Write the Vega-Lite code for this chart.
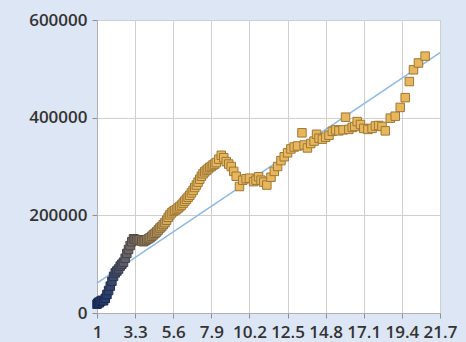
{
  "$schema": "https://vega.github.io/schema/vega-lite/v6.json",
  "width": 343,
  "height": 293,
  "autosize": {"type": "none"},
  "padding": {"left": 97, "top": 20, "right": 26, "bottom": 29},
  "background": "#dce6f4",
  "config": {
    "view": {"fill": "white", "stroke": "#c8c8c8"},
    "axis": {
      "labelFont": "Open Sans",
      "labelFontWeight": 600,
      "labelFontSize": 17,
      "labelColor": "#333333",
      "gridColor": "#cfcfcf",
      "domainColor": "#b0b0b0",
      "tickColor": "#909090",
      "tickSize": 5,
      "title": null
    }
  },
  "datasets": {
    "pts": [
      {"x":1.0,"y":18000},{"x":1.05,"y":20000},{"x":1.1,"y":22000},{"x":1.15,"y":21000},{"x":1.2,"y":24000},{"x":1.3,"y":26000},{"x":1.4,"y":25000},{"x":1.5,"y":30000},{"x":1.6,"y":38000},{"x":1.7,"y":46000},{"x":1.8,"y":55000},{"x":1.9,"y":65000},{"x":2.0,"y":75000},{"x":2.1,"y":82000},{"x":2.2,"y":86000},{"x":2.3,"y":90000},{"x":2.4,"y":96000},{"x":2.5,"y":100000},{"x":2.6,"y":104000},{"x":2.7,"y":112000},{"x":2.8,"y":122000},{"x":2.9,"y":130000},{"x":3.0,"y":138000},{"x":3.1,"y":146000},{"x":3.2,"y":152000},{"x":3.3,"y":151000},{"x":3.4,"y":150000},{"x":3.5,"y":149000},{"x":3.6,"y":150000},{"x":3.7,"y":147000},{"x":3.8,"y":146000},{"x":3.9,"y":148000},{"x":4.0,"y":150000},{"x":4.1,"y":152000},{"x":4.2,"y":154000},{"x":4.3,"y":157000},{"x":4.4,"y":160000},{"x":4.5,"y":163000},{"x":4.6,"y":166000},{"x":4.7,"y":170000},{"x":4.8,"y":174000},{"x":4.9,"y":177000},{"x":5.0,"y":181000},{"x":5.1,"y":185000},{"x":5.2,"y":190000},{"x":5.3,"y":196000},{"x":5.4,"y":201000},{"x":5.5,"y":205000},{"x":5.6,"y":208000},{"x":5.7,"y":210000},{"x":5.8,"y":212000},{"x":5.9,"y":215000},{"x":6.0,"y":218000},{"x":6.1,"y":221000},{"x":6.2,"y":225000},{"x":6.3,"y":229000},{"x":6.4,"y":233000},{"x":6.5,"y":237000},{"x":6.6,"y":241000},{"x":6.7,"y":246000},{"x":6.8,"y":251000},{"x":6.9,"y":257000},{"x":7.0,"y":262000},{"x":7.1,"y":268000},{"x":7.2,"y":274000},{"x":7.3,"y":280000},{"x":7.4,"y":285000},{"x":7.5,"y":289000},{"x":7.6,"y":292000},{"x":7.7,"y":295000},{"x":7.8,"y":298000},{"x":7.9,"y":300000},{"x":8.0,"y":303000},{"x":8.1,"y":305000},{"x":8.2,"y":308000},{"x":8.35,"y":315000},{"x":8.5,"y":323000},{"x":8.65,"y":318000},{"x":8.8,"y":310000},{"x":8.95,"y":305000},{"x":9.1,"y":300000},{"x":9.25,"y":290000},{"x":9.4,"y":280000},{"x":9.6,"y":259000},{"x":9.8,"y":272000},{"x":10.0,"y":275000},{"x":10.2,"y":276000},{"x":10.45,"y":269000},{"x":10.6,"y":272000},{"x":10.75,"y":279000},{"x":10.9,"y":272000},{"x":11.06,"y":268000},{"x":11.25,"y":262000},{"x":11.5,"y":278000},{"x":11.7,"y":290000},{"x":11.9,"y":300000},{"x":12.1,"y":312000},{"x":12.3,"y":320000},{"x":12.5,"y":328000},{"x":12.7,"y":336000},{"x":12.9,"y":340000},{"x":13.1,"y":342000},{"x":13.37,"y":369000},{"x":13.5,"y":344000},{"x":13.7,"y":338000},{"x":13.9,"y":347000},{"x":14.1,"y":352000},{"x":14.25,"y":366000},{"x":14.4,"y":358000},{"x":14.6,"y":356000},{"x":14.8,"y":360000},{"x":15.0,"y":364000},{"x":15.2,"y":372000},{"x":15.4,"y":375000},{"x":15.6,"y":373000},{"x":15.85,"y":375000},{"x":16.0,"y":401000},{"x":16.2,"y":376000},{"x":16.4,"y":380000},{"x":16.55,"y":382000},{"x":16.7,"y":392000},{"x":16.9,"y":386000},{"x":17.1,"y":378000},{"x":17.35,"y":376000},{"x":17.6,"y":378000},{"x":17.8,"y":383000},{"x":18.0,"y":384000},{"x":18.2,"y":382000},{"x":18.4,"y":373000},{"x":18.7,"y":399000},{"x":19.0,"y":403000},{"x":19.3,"y":421000},{"x":19.6,"y":441000},{"x":19.85,"y":474000},{"x":20.1,"y":498000},{"x":20.4,"y":512000},{"x":20.8,"y":526000}
    ],
    "fit": [
      {"x":1.0,"y":61400},{"x":21.7,"y":533000}
    ]
  },
  "encoding": {
    "x": {"field": "x", "type": "quantitative", "scale": {"domain": [1, 21.7], "nice": false, "zero": false},
          "axis": {"values": [1, 3.3, 5.6, 7.9, 10.2, 12.5, 14.8, 17.1, 19.4, 21.7], "labelPadding": 6, "labelFlush": false, "format": ".1~f"}},
    "y": {"field": "y", "type": "quantitative", "scale": {"domain": [0, 600000], "nice": false},
          "axis": {"values": [0, 200000, 400000, 600000], "format": "d", "labelPadding": 5}}
  },
  "layer": [
    {
      "data": {"name": "fit"},
      "mark": {"type": "line", "color": "#8fb8e2", "strokeWidth": 1.5}
    },
    {
      "data": {"name": "pts"},
      "mark": {"type": "point", "shape": "square", "filled": true, "size": 72, "strokeWidth": 1, "opacity": 1},
      "encoding": {
        "fill": {"field": "x", "type": "quantitative", "legend": null,
                 "scale": {"domain": [1.5, 5.5], "range": ["#263b6e", "#e8b75c"], "clamp": true, "interpolate": "rgb"}},
        "stroke": {"field": "x", "type": "quantitative", "legend": null,
                   "scale": {"domain": [1.5, 5.5], "range": ["#1a2a52", "#9c7738"], "clamp": true, "interpolate": "rgb"}}
      }
    }
  ]
}
